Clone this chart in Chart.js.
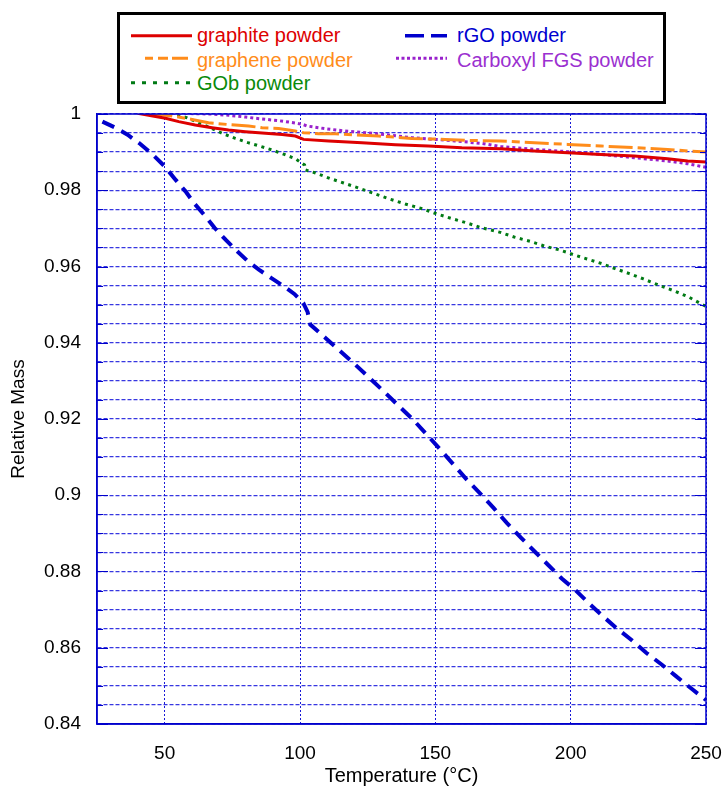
<!DOCTYPE html>
<html>
<head>
<meta charset="utf-8">
<script src="https://cdn.jsdelivr.net/npm/chart.js@4/dist/chart.umd.min.js"></script>
<style>
  body { margin: 0; background: #fff; }
  #wrap { position: relative; width: 726px; height: 788px; font-family: "Liberation Sans", Arial, sans-serif; }
  #legend { position: absolute; left: 117px; top: 12px; width: 549px; height: 92px; box-sizing: border-box; border: 3px solid #000; background: #fff; }
  .lbl { position: absolute; font-size: 20px; line-height: 20px; white-space: nowrap; }
  #legend svg { position: absolute; left: 0; top: 0; }
</style>
</head>
<body>
<div id="wrap">
  <canvas id="chart" width="726" height="788"></canvas>
  <div id="legend"></div>
</div>
<script>
// temperatures (°C) and relative mass
const graphiteTemp = [40, 45.6, 50.3, 55.2, 61.3, 67.5, 73.6, 79.8, 86, 93.4, 98.3, 101.3, 110.6, 122.9, 135.2, 147.5, 159.8, 174.3, 186.6, 198.9, 211.2, 223.5, 235.8, 243.2, 250];
const graphiteMass = [1.0002, 0.9995, 0.9989, 0.998, 0.9971, 0.9964, 0.9958, 0.99536, 0.995, 0.99465, 0.99423, 0.99334, 0.99292, 0.99248, 0.99195, 0.99161, 0.99116, 0.9909, 0.9903, 0.98985, 0.9894, 0.98898, 0.98828, 0.98767, 0.9874];

const grapheneTemp = [44, 52.7, 60.1, 66.2, 73, 81, 86, 92.1, 98.3, 101.3, 106.9, 113, 120.4, 129, 141.3, 153.6, 162.2, 174, 186.6, 198.9, 211.2, 223.5, 235.8, 243.2, 250];
const grapheneMass = [1.0002, 0.9995, 0.99858, 0.99772, 0.99727, 0.99685, 0.9964, 0.99622, 0.99554, 0.9951, 0.99483, 0.99483, 0.9945, 0.99423, 0.9936, 0.99334, 0.99308, 0.99292, 0.99248, 0.99203, 0.99161, 0.99116, 0.99072, 0.9903, 0.99];

const gobTemp = [52, 53.6, 58.3, 62.6, 66.9, 71.6, 76.1, 80.8, 85, 89.7, 94.2, 98.3, 101.7, 102, 105.7, 111.2, 116.1, 121.6, 127.8, 133, 138.9, 145.4, 150.6, 156.1, 161.7, 166.6, 174, 179.5, 185, 190.6, 195.5, 198.6, 201, 206, 211.5, 216.4, 221.7, 226.9, 233, 238.6, 243.5, 250];
const gobMass = [1.0003, 1.0, 0.999, 0.99772, 0.9964, 0.99483, 0.9936, 0.99248, 0.99161, 0.99056, 0.9894, 0.98828, 0.98663, 0.98532, 0.98453, 0.98306, 0.9819, 0.98059, 0.97902, 0.97771, 0.9764, 0.97509, 0.97378, 0.97255, 0.97142, 0.97027, 0.96896, 0.96765, 0.9666, 0.96529, 0.96442, 0.96372, 0.96311, 0.96198, 0.96075, 0.95944, 0.95813, 0.95673, 0.95498, 0.9535, 0.95203, 0.9495];

const rgoTemp = [27, 32, 36.3, 41, 45.6, 50, 53.7, 57.7, 61.1, 65.1, 68.5, 72.5, 76.8, 80.8, 84.8, 89.3, 94, 97.9, 101.2, 102.8, 103.8, 109.4, 114.9, 120.4, 125.3, 130.9, 136.4, 142, 147.1, 152.4, 156.7, 161.6, 166.6, 171.5, 176.4, 181.7, 186.6, 191.8, 196.7, 201.8, 206.3, 211.6, 216.8, 222.6, 227.9, 233.6, 238.9, 244.7, 250];
const rgoMass = [0.998, 0.99633, 0.99457, 0.99213, 0.98933, 0.98626, 0.98304, 0.97971, 0.9764, 0.97315, 0.9701, 0.96704, 0.96398, 0.96135, 0.95918, 0.957, 0.9548, 0.9528, 0.95045, 0.9481, 0.94476, 0.94127, 0.93776, 0.93427, 0.93104, 0.92727, 0.9235, 0.91967, 0.91573, 0.91154, 0.90805, 0.90411, 0.90044, 0.89669, 0.89276, 0.88882, 0.88532, 0.88165, 0.87816, 0.8751, 0.87195, 0.86846, 0.86523, 0.86198, 0.85867, 0.85561, 0.85255, 0.84923, 0.8463];

const carboxylTemp = [44, 67.5, 73.6, 79.8, 86, 92.1, 98.3, 101.3, 102.6, 109.3, 116.7, 124.1, 132.7, 141.3, 149.9, 157.3, 167.2, 174.3, 186.6, 198.9, 211.2, 223.5, 235.8, 243.2, 250];
const carboxylMass = [1.0003, 1.0, 0.99966, 0.9992, 0.99869, 0.99825, 0.99764, 0.9972, 0.99685, 0.99615, 0.99554, 0.9951, 0.9945, 0.99379, 0.99334, 0.99292, 0.99229, 0.99143, 0.99072, 0.99012, 0.9894, 0.98854, 0.98767, 0.98697, 0.986];

const xTicks = [50, 100, 150, 200, 250];
const yLabels = [0.84, 0.86, 0.88, 0.9, 0.92, 0.94, 0.96, 0.98, 1];
const yGridStep = 0.005;

const pts = (t, m) => t.map((v, i) => ({ x: v, y: m[i] }));

const series = [
  { label: "graphite powder", color: "#dd0000", data: pts(graphiteTemp, graphiteMass), dash: [], width: 3 },
  { label: "rGO powder", color: "#0000cc", data: pts(rgoTemp, rgoMass), dash: [13, 8], width: 4 },
  { label: "graphene powder", color: "#ff8c1a", data: pts(grapheneTemp, grapheneMass), dash: [24, 5, 8, 5], width: 3 },
  { label: "Carboxyl FGS powder", color: "#9922cc", data: pts(carboxylTemp, carboxylMass), dash: [3, 3], width: 3 },
  { label: "GOb powder", color: "#007a14", data: pts(gobTemp, gobMass), dash: [3, 4.5], width: 3 },
];

// frame round the plot plus inward tick marks on both sides
const frame = {
  id: "frame",
  afterDatasetsDraw(chart) {
    const { ctx, chartArea: a, scales: { y } } = chart;
    ctx.save();
    ctx.strokeStyle = "#0000cc";
    ctx.lineWidth = 1.5;
    ctx.strokeRect(a.left, a.top, a.right - a.left, a.bottom - a.top);
    ctx.lineWidth = 1.2;
    y.ticks.forEach((t) => {
      const py = Math.round(y.getPixelForValue(t.value)) + 0.5;
      const len = yLabels.some((v) => Math.abs(v - t.value) < 1e-6) ? 11 : 6;
      ctx.beginPath();
      ctx.moveTo(a.left, py);
      ctx.lineTo(a.left + len, py);
      ctx.moveTo(a.right - len, py);
      ctx.lineTo(a.right, py);
      ctx.stroke();
    });
    ctx.restore();
  },
};

Chart.defaults.font.family = '"Liberation Sans", Arial, sans-serif';
Chart.defaults.color = "#000";

new Chart(document.getElementById("chart"), {
  type: "scatter",
  data: {
    datasets: series.map((s) => ({
      label: s.label,
      data: s.data,
      showLine: true,
      borderColor: s.color,
      backgroundColor: s.color,
      borderWidth: s.width,
      borderDash: s.dash,
      pointRadius: 0,
      tension: 0,
    })),
  },
  options: {
    responsive: false,
    animation: false,
    layout: { padding: { top: 114, right: 20, left: 0, bottom: 0 } },
    plugins: { legend: { display: false }, tooltip: { enabled: false } },
    scales: {
      x: {
        type: "linear",
        min: 25,
        max: 250,
        afterBuildTicks: (s) => { s.ticks = xTicks.map((v) => ({ value: v })); },
        afterFit: (s) => { s.height = 64; s.paddingLeft = 0; s.paddingRight = 0; },
        ticks: { font: { size: 19 }, padding: 18, maxRotation: 0 },
        grid: { color: "rgba(0,0,210,0.9)", lineWidth: 1, drawTicks: false },
        border: { display: true, color: "#0000cc", width: 1.5, dash: [2, 2] },
        title: { display: true, text: "Temperature (°C)", font: { size: 20 }, padding: { top: 0, bottom: 0 } },
      },
      y: {
        min: 0.84,
        max: 1,
        afterBuildTicks: (s) => {
          const ticks = [];
          for (let v = s.min; v <= s.max + 1e-9; v += yGridStep) ticks.push({ value: Math.round(v * 1000) / 1000 });
          s.ticks = ticks;
        },
        afterFit: (s) => { s.width = 97; s.paddingTop = 0; s.paddingBottom = 0; },
        ticks: {
          font: { size: 19 },
          padding: 16,
          autoSkip: false,
          callback: (v) => (yLabels.some((l) => Math.abs(l - v) < 1e-6) ? String(+v.toFixed(2)) : ""),
        },
        grid: { color: "rgba(20,20,220,0.85)", lineWidth: 1.3, drawTicks: false },
        border: { display: true, color: "#0000cc", width: 1.5, dash: [4, 2] },
        title: { display: true, text: "Relative Mass", font: { size: 19 }, padding: { top: 7, bottom: 0 } },
      },
    },
  },
  plugins: [frame],
});

// legend box (coordinates relative to the box)
const legend = document.getElementById("legend");
const ox = 120, oy = 15;
const ns = "http://www.w3.org/2000/svg";
const svg = document.createElementNS(ns, "svg");
svg.setAttribute("width", "543");
svg.setAttribute("height", "86");
legend.appendChild(svg);
function seg(x1, x2, y, color, w, dash) {
  const l = document.createElementNS(ns, "line");
  l.setAttribute("x1", x1 - ox); l.setAttribute("x2", x2 - ox);
  l.setAttribute("y1", y - oy); l.setAttribute("y2", y - oy);
  l.setAttribute("stroke", color); l.setAttribute("stroke-width", w);
  if (dash) l.setAttribute("stroke-dasharray", dash);
  svg.appendChild(l);
}
function text(x, baseline, str, color) {
  const d = document.createElement("div");
  d.className = "lbl";
  d.textContent = str;
  d.style.left = (x - ox) + "px";
  d.style.top = (baseline - 17 - oy) + "px";
  d.style.color = color;
  legend.appendChild(d);
}
seg(131, 192, 35.7, "#dd0000", 3);
text(197, 42, "graphite powder", "#dd0000");
seg(145, 188, 58.3, "#ff8c1a", 3, "8 5 10 4 17");
text(197, 67, "graphene powder", "#ff8c1a");
seg(131, 190, 82.7, "#007a14", 3, "4 7");
text(197, 90, "GOb powder", "#0a8a0a");
seg(405, 447, 35.7, "#0000cc", 3.5, "19 7");
text(457, 42, "rGO powder", "#0000d0");
seg(396, 447, 58.3, "#9922cc", 3, "3 2.5");
text(457, 67, "Carboxyl FGS powder", "#9b30d0");
</script>
</body>
</html>
